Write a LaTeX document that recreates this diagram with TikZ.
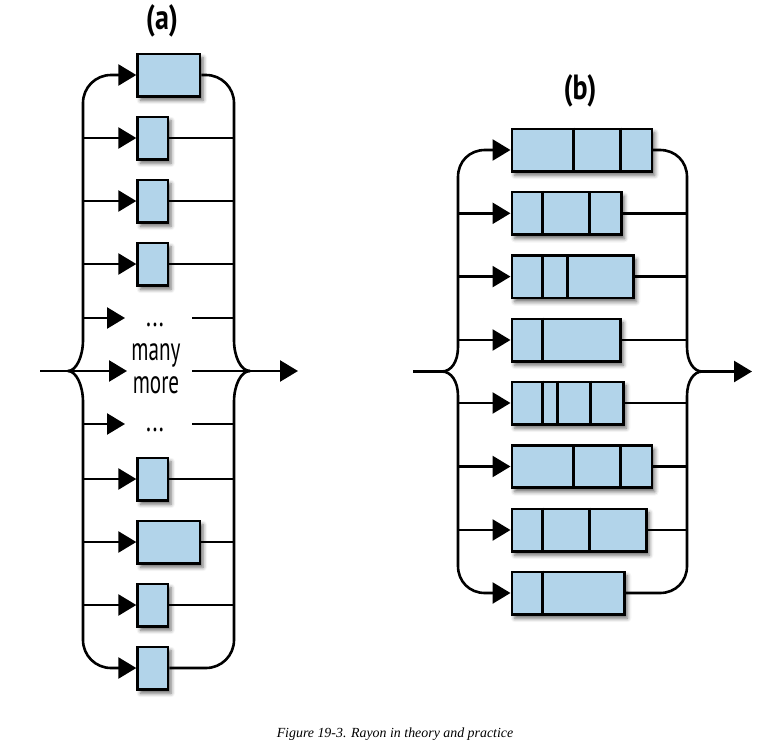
\documentclass[tikz,border=0pt]{standalone}
\usepackage{fontspec}
\usepackage{graphicx}
\setmainfont{Liberation Serif}
\newfontfamily\condfont{PT Sans}
\usetikzlibrary{arrows.meta,shadows.blur}
\definecolor{boxblue}{RGB}{178,212,234}
\begin{document}
\begin{tikzpicture}[x=1pt,y=-1pt,
  wire/.style={line width=2.6pt},
  arr/.style={wire,-{Triangle[length=18pt,width=21pt]}},
  rarr/.style={wire,{Triangle[length=18pt,width=21pt]}-},
  cell/.style={draw,line width=2.6pt,fill=boxblue,minimum height=42.4pt,inner sep=0pt,anchor=west,
    blur shadow={shadow xshift=3pt,shadow yshift=-4pt,shadow blur radius=4pt,shadow opacity=60}},
  narrow/.style={cell,minimum width=30.4pt},
  wide/.style={cell,minimum width=62.4pt},
  divider/.style={line width=2.6pt},
  ttl/.style={font=\condfont\bfseries\fontsize{35}{38}\selectfont},
  lbl/.style={font=\condfont\fontsize{33}{33}\selectfont,inner sep=0pt},
]
\useasboundingbox (0,0) rectangle (779,750);

% ---------------- (a) ----------------
\node[ttl] (ta) at (162,21) {\scalebox{0.8}[1]{(a)}};
\coordinate (aL) at (83,0);
\coordinate (aR) at (234,0);
\coordinate (aTipL) at (68,371);
\coordinate (aTipR) at (250,371);
\coordinate (aIn) at (40,371);
\coordinate (aMid) at (127,371);
\coordinate (aMidR) at (192,371);
\coordinate (aOut) at (298,371);

\node[wide]   (a1) at (136.3,75)  {};
\node[narrow] (a2) at (136.3,138) {};
\node[narrow] (a3) at (136.3,201) {};
\node[narrow] (a4) at (136.3,264) {};
\node[narrow] (a5) at (136.3,479) {};
\node[wide]   (a6) at (136.3,542) {};
\node[narrow] (a7) at (136.3,605) {};
\node[narrow] (a8) at (136.3,668) {};

\node[lbl,anchor=base] (dots1) at (155,326) {\scalebox{0.7}[1]{...}};
\node[lbl,align=center] (many) at (156,368.5)
  {\scalebox{0.64}[1]{many}\\\scalebox{0.64}[1]{more}};
\node[lbl,anchor=base] (dots2) at (155,431) {\scalebox{0.7}[1]{...}};
\coordinate (d1in) at (125,318);
\coordinate (d1out) at (192,318);
\coordinate (d2in) at (125,424);
\coordinate (d2out) at (192,424);

% left brace
\draw[rarr] (a1.west) -- (111,75) .. controls (95.5,75) and (83,87.5) .. (83,103)
  -- (83,340) .. controls (83,357) and (76,371) .. (aTipL);
\draw[arr] (aTipL) .. controls (76,371) and (83,385) .. (83,402)
  -- (83,640) .. controls (83,655.5) and (95.5,668) .. (111,668) -- (a8.west);
% right brace
\draw[wire] (a1.east) -- (206,75) .. controls (221.5,75) and (234,87.5) .. (234,103)
  -- (234,340) .. controls (234,357) and (241,371) .. (aTipR);
\draw[wire] (aTipR) .. controls (241,371) and (234,385) .. (234,402)
  -- (234,640) .. controls (234,655.5) and (221.5,668) .. (206,668) -- (a8.east);
% branches
\foreach \n in {a2,a3,a4,a5,a6,a7}{
  \draw[arr] (\n.west -| aL) -- (\n.west);
  \draw[wire] (\n.east) -- (\n.east -| aR);
}
\draw[arr] (d1in -| aL) -- (d1in);
\draw[wire] (d1out) -- (d1out -| aR);
\draw[arr] (d2in -| aL) -- (d2in);
\draw[wire] (d2out) -- (d2out -| aR);
\draw[arr] (aIn) -- (aMid);
\draw[arr] (aMidR) -- (aOut);

% ---------------- (b) ----------------
\node[ttl] (tb) at (580,91) {\scalebox{0.8}[1]{(b)}};
\coordinate (bL) at (458,0);
\coordinate (bR) at (687,0);
\coordinate (bTipL) at (442,371.5);
\coordinate (bTipR) at (702,371.5);
\coordinate (bIn) at (413,371.5);
\coordinate (bOut) at (752,371.5);

\node[cell,minimum width=140pt]   (b1) at (510.5,150)   {};
\node[cell,minimum width=109.5pt] (b2) at (510.5,213.3) {};
\node[cell,minimum width=121.5pt] (b3) at (510.5,276.6) {};
\node[cell,minimum width=108.5pt] (b4) at (510.5,340)   {};
\node[cell,minimum width=111.5pt] (b5) at (510.5,403)   {};
\node[cell,minimum width=140pt]   (b6) at (510.5,466.5) {};
\node[cell,minimum width=134.5pt] (b7) at (510.5,530)   {};
\node[cell,minimum width=112.5pt] (b8) at (510.5,593)   {};

% dividers
\foreach \n/\offs in {b1/{63,110},b2/{32,79},b3/{32,57},b4/{32},b5/{32,47,80},b6/{63,110},b7/{32,79},b8/{32}}{
  \foreach \o in \offs {
    \draw[divider] ([xshift=\o pt]\n.north west) -- ([xshift=\o pt]\n.south west);
  }
}

% left brace
\draw[rarr] (b1.west) -- (485,150) .. controls (469.5,150) and (458,161.5) .. (458,177)
  -- (458,347) .. controls (458,362) and (451,371.5) .. (bTipL);
\draw[arr] (bTipL) .. controls (451,371.5) and (458,381) .. (458,396)
  -- (458,566) .. controls (458,581.5) and (469.5,593) .. (485,593) -- (b8.west);
% right brace
\draw[wire] (b1.east) -- (660,150) .. controls (675.5,150) and (687,161.5) .. (687,177)
  -- (687,347) .. controls (687,362) and (694,371.5) .. (bTipR);
\draw[wire] (bTipR) .. controls (694,371.5) and (687,381) .. (687,396)
  -- (687,566) .. controls (687,581.5) and (675.5,593) .. (660,593) -- (b8.east);
\foreach \n in {b2,b3,b4,b5,b6,b7}{
  \draw[arr] (\n.west -| bL) -- (\n.west);
  \draw[wire] (\n.east) -- (\n.east -| bR);
}
\draw[wire] (bIn) -- (bTipL);
\draw[arr] (bTipR) -- (bOut);

% caption
\node[font=\itshape\fontsize{13.9}{16}\selectfont,anchor=base,inner sep=0pt] (cap) at (395,737)
  {Figure 19-3. Rayon in theory and practice};
\end{tikzpicture}
\end{document}
